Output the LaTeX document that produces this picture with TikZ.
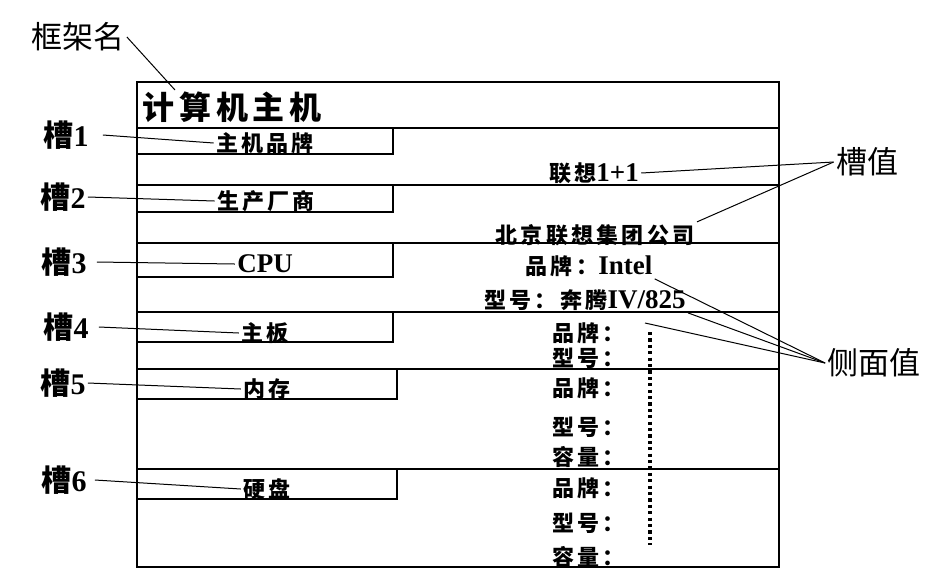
\documentclass[tikz,border=0pt]{standalone}
\usepackage{fontspec}
\setmainfont{Liberation Serif}
\newfontfamily\hei{Noto Sans CJK SC}
\newfontfamily\kai[LetterSpace=15]{Noto Sans CJK SC}
\newcommand{\lat}[1]{{\fontsize{13.5}{14}\selectfont\rmfamily\bfseries #1}}
\tikzset{
	outline/.style={line width=0.8pt},
	slotline/.style={line width=0.6pt},
	pointer/.style={line width=0.5pt},
	dots/.style={line width=1.7pt, dash pattern=on 1.6pt off 1.6pt},
	label/.style={inner sep=1pt, font=\fontsize{15.5}{16}\selectfont\hei},
	tag/.style={inner sep=1pt, font=\fontsize{15}{16}\selectfont\bfseries},
	slotname/.style={inner sep=1pt, font=\fontsize{11}{12}\selectfont\kai\bfseries},
	facet/.style={inner sep=1pt, anchor=west, font=\fontsize{11}{12}\selectfont\kai\bfseries},
}

\begin{document}
\begin{tikzpicture}[x=0.5pt, y=-0.5pt]
	\useasboundingbox (0,0) rectangle (940,580);
	% frame and slots
	\draw[outline] (137,82) rectangle (779,567);
	\draw[slotline] (137,128) -- (779,128);
	\draw[slotline] (137,154) -- (393,154) -- (393,128);
	\draw[slotline] (137,185) -- (779,185);
	\draw[slotline] (137,212) -- (393,212) -- (393,185);
	\draw[slotline] (137,243) -- (779,243);
	\draw[slotline] (137,277) -- (393,277) -- (393,243);
	\draw[slotline] (137,312) -- (779,312);
	\draw[slotline] (137,342) -- (393,342) -- (393,312);
	\draw[slotline] (137,369) -- (779,369);
	\draw[slotline] (137,399) -- (397,399) -- (397,369);
	\draw[slotline] (137,469) -- (779,469);
	\draw[slotline] (137,499) -- (397,499) -- (397,469);

	\node[anchor=west, inner sep=1pt, font=\fontsize{16}{17}\selectfont\kai\bfseries] (T) at (140,107) {计算机主机};
	\node[slotname] (N1) at (265,143) {主机品牌};
	\node[slotname] (N2) at (266,201) {生产厂商};
	\node[slotname] (N3) at (265,264) {\lat{CPU}};
	\node[slotname] (N4) at (265,333) {主板};
	\node[slotname] (N5) at (267,389) {内存};
	\node[slotname] (N6) at (267,489) {硬盘};

	\node[slotname] (V1) at (594,173) {联想\lat{1+1}};
	\node[slotname] (V2) at (595,235) {北京联想集团公司};
	\node[slotname] (P1) at (589,266) {品牌：\lat{Intel}};
	\node[slotname] (P2) at (585,300) {型号：奔腾\lat{IV/825}};
	\node[facet] (B4) at (550,333) {品牌：};
	\node[facet] (M4) at (550,358) {型号：};
	\node[facet] (B5) at (550,388) {品牌：};
	\node[facet] (M5) at (550,427) {型号：};
	\node[facet] (R5) at (550,457) {容量：};
	\node[facet] (B6) at (550,488) {品牌：};
	\node[facet] (M6) at (550,523) {型号：};
	\node[facet] (R6) at (550,557) {容量：};
	\draw[dots] (650,332) -- (650,545);

	% labels outside
	\node[label] (F) at (78,37) {框架名};
	\node[tag] (S1) at (66,135) {{\hei 槽}1};
	\node[tag] (S2) at (63,197) {{\hei 槽}2};
	\node[tag] (S3) at (64,262) {{\hei 槽}3};
	\node[tag] (S4) at (66,327) {{\hei 槽}4};
	\node[tag] (S5) at (63,383) {{\hei 槽}5};
	\node[tag] (S6) at (64,480) {{\hei 槽}6};
	\node[label] (C) at (867,162) {槽值};
	\node[label] (D) at (874,363) {侧面值};
	\coordinate (t) at (175,90);
	\coordinate (q) at (645,323);

	\draw[pointer] (F.east) -- (t);
	\draw[pointer] ([xshift=6pt]S1.east) -- (N1.west);
	\draw[pointer] (S2.east) -- (N2.west);
	\draw[pointer] ([xshift=4pt]S3.east) -- (N3.west);
	\draw[pointer] ([xshift=4pt]S4.east) -- (N4.west);
	\draw[pointer] (S5.east) -- (N5.west);
	\draw[pointer] ([xshift=3pt]S6.east) -- (N6.west);
	\draw[pointer] (V1.east) -- (C.west);
	\draw[pointer] (V2.north east) -- (C.west);
	\draw[pointer] (P1.south east) -- (D.west);
	\draw[pointer] (P2.south east) -- (D.west);
	\draw[pointer] (q) -- (D.west);
\end{tikzpicture}
\end{document}
